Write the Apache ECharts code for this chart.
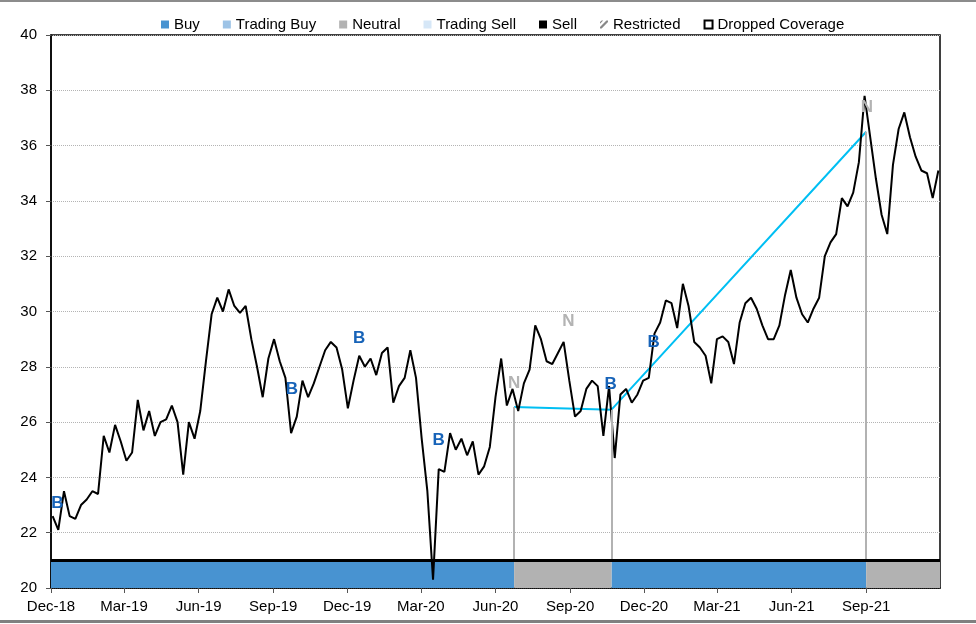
<!DOCTYPE html>
<html>
<head>
<meta charset="utf-8">
<script src="https://cdn.jsdelivr.net/npm/echarts@6/dist/echarts.min.js"></script>
<style>
  html, body { margin: 0; padding: 0; background: #fff; }
  #main { width: 976px; height: 624px; }
</style>
</head>
<body>
<div id="main"></div>
<script>
// weekly closing prices (first week starts 2018-12-03)
const startDate = [2018, 11, 3]
const prices = [
  22.6, 22.1, 23.5, 22.6, 22.5, 23.0, 23.2, 23.5, 23.4, 25.5,
  24.9, 25.9, 25.3, 24.6, 24.9, 26.8, 25.7, 26.4, 25.5, 26.0,
  26.1, 26.6, 26.0, 24.1, 26.0, 25.4, 26.4, 28.2, 29.9, 30.5,
  30.0, 30.8, 30.2, 29.95, 30.2, 29.0, 28.0, 26.9, 28.3, 29.0,
  28.2, 27.6, 25.6, 26.2, 27.5, 26.9, 27.4, 28.0, 28.6, 28.9,
  28.7, 27.9, 26.5, 27.5, 28.4, 28.0, 28.3, 27.7, 28.5, 28.7,
  26.7, 27.3, 27.6, 28.6, 27.6, 25.4, 23.5, 20.3, 24.3, 24.2,
  25.6, 25.0, 25.4, 24.8, 25.3, 24.1, 24.4, 25.1, 26.9, 28.3,
  26.6, 27.2, 26.4, 27.4, 27.9, 29.5, 29.0, 28.2, 28.1, 28.5,
  28.9, 27.5, 26.2, 26.4, 27.2, 27.5, 27.3, 25.5, 27.3, 24.7,
  27.0, 27.2, 26.7, 27.0, 27.5, 27.6, 29.2, 29.6, 30.4, 30.3,
  29.4, 31.0, 30.2, 28.9, 28.7, 28.4, 27.4, 29.0, 29.1, 28.9,
  28.1, 29.6, 30.3, 30.5, 30.1, 29.5, 29.0, 29.0, 29.5, 30.6,
  31.5, 30.5, 29.9, 29.6, 30.1, 30.5, 32.0, 32.5, 32.8, 34.1,
  33.8, 34.3, 35.4, 37.8, 36.3, 34.8, 33.5, 32.8, 35.3, 36.6,
  37.2, 36.3, 35.6, 35.1, 35.0, 34.1, 35.1
]

// rating periods (bottom band)
const buyPeriods = [['2018-12-01', '2020-06-24'], ['2020-10-22', '2021-09-01']]
const neutralPeriods = [['2020-06-24', '2020-10-22'], ['2021-09-01', '2021-12-01']]

// price target history
const targetDates = ['2020-06-24', '2020-10-22', '2021-09-01']
const targetValues = [26.55, 26.45, 36.5]

// rating letters on the chart
const buyMarkDates = ['2018-12-09', '2019-09-24', '2019-12-16', '2020-03-23', '2020-10-21', '2020-12-13']
const buyMarkValues = [23.07, 27.2, 29.04, 25.35, 27.38, 28.9]
const neutralMarkDates = ['2020-06-24', '2020-08-30', '2021-09-02']
const neutralMarkValues = [27.41, 29.66, 37.4]

// x axis ticks
const xTickDates = ['2018-12-01', '2019-03-01', '2019-06-01', '2019-09-01', '2019-12-01', '2020-03-01',
  '2020-06-01', '2020-09-01', '2020-12-01', '2021-03-01', '2021-06-01', '2021-09-01']
const xTickLabels = ['Dec-18', 'Mar-19', 'Jun-19', 'Sep-19', 'Dec-19', 'Mar-20',
  'Jun-20', 'Sep-20', 'Dec-20', 'Mar-21', 'Jun-21', 'Sep-21']

const BLUE = '#4893d1'
const GREY = '#b2b2b2'

const toTs = (s) => {
  const p = s.split('-').map(Number)
  return new Date(p[0], p[1] - 1, p[2]).getTime()
}
const xTickTs = xTickDates.map(toTs)

const priceData = prices.map((v, i) => [new Date(startDate[0], startDate[1], startDate[2] + 7 * i).getTime(), v])
const targetData = targetDates.map((d, i) => [toTs(d), targetValues[i]])

// band drawn as rectangles between 20 and 21
const bandItem = (color) => (params, api) => {
  const a = api.coord([api.value(0), 21])
  const b = api.coord([api.value(1), 20])
  return {
    type: 'rect',
    shape: { x: a[0], y: a[1], width: b[0] - a[0], height: b[1] - a[1] },
    style: { fill: color }
  }
}

const letterLabel = (txt, color) => ({
  show: true,
  position: 'inside',
  formatter: txt,
  color: color,
  opacity: 1,
  textBorderWidth: 0,
  fontFamily: 'Liberation Sans, Arial, sans-serif',
  fontWeight: 'bold',
  fontSize: 17
})

const chart = echarts.init(document.getElementById('main'))

const option = {
  animation: false,
  textStyle: { fontFamily: 'Liberation Sans, Arial, sans-serif' },
  graphic: [
    { type: 'rect', left: 0, top: 0, shape: { width: 976, height: 2 }, style: { fill: '#8c8c8c' } },
    { type: 'rect', left: 0, top: 620, shape: { width: 976, height: 3 }, style: { fill: '#808080' } }
  ],
  legend: {
    left: 156,
    top: 12,
    itemWidth: 8,
    itemHeight: 8,
    itemGap: 23,
    selectedMode: false,
    textStyle: { fontSize: 15, color: '#000' },
    data: [
      { name: 'Buy', icon: 'rect', itemStyle: { color: BLUE } },
      { name: 'Trading Buy', icon: 'rect', itemStyle: { color: '#9dc3e6' } },
      { name: 'Neutral', icon: 'rect', itemStyle: { color: GREY } },
      { name: 'Trading Sell', icon: 'rect', itemStyle: { color: '#d6e7f7' } },
      { name: 'Sell', icon: 'rect', itemStyle: { color: '#000' } },
      { name: 'Restricted', icon: 'path://M0,10L2,10L10,2L10,0L8,0L0,8Z M0,4L4,0L2,0L0,2Z', itemStyle: { color: '#888' } },
      { name: 'Dropped Coverage', icon: 'rect', itemStyle: { color: '#fff', borderColor: '#000', borderWidth: 2 } }
    ]
  },
  grid: { left: 51, right: 36, top: 35, bottom: 36, show: true, borderColor: '#000', borderWidth: 1.5 },
  xAxis: {
    type: 'value',
    min: toTs('2018-12-01'),
    max: toTs('2021-12-01'),
    axisLine: { lineStyle: { color: '#000', width: 1.5 } },
    axisTick: { show: true, length: 5, customValues: xTickTs, lineStyle: { color: '#555' } },
    axisLabel: {
      customValues: xTickTs,
      margin: 11,
      fontSize: 15,
      color: '#000',
      formatter: (v) => {
        const k = xTickTs.indexOf(v)
        return k >= 0 ? xTickLabels[k] : ''
      }
    },
    splitLine: { show: false }
  },
  yAxis: {
    type: 'value',
    min: 20,
    max: 40,
    interval: 2,
    axisLine: { show: true, lineStyle: { color: '#000', width: 1.5 } },
    axisTick: { show: true, length: 5, lineStyle: { color: '#555' } },
    axisLabel: { fontSize: 15, color: '#000', margin: 14 },
    splitLine: { lineStyle: { color: '#b4b4b4', type: 'dotted', width: 1 } }
  },
  series: [
    {
      name: 'Buy',
      type: 'custom',
      renderItem: bandItem(BLUE),
      itemStyle: { color: BLUE },
      encode: { x: [0, 1] },
      data: buyPeriods.map((p) => [toTs(p[0]), toTs(p[1])]),
      z: 1
    },
    {
      name: 'Neutral',
      type: 'custom',
      renderItem: bandItem(GREY),
      itemStyle: { color: GREY },
      encode: { x: [0, 1] },
      data: neutralPeriods.map((p) => [toTs(p[0]), toTs(p[1])]),
      z: 1
    },
    { name: 'Trading Buy', type: 'bar', data: [], itemStyle: { color: '#9dc3e6' } },
    { name: 'Trading Sell', type: 'bar', data: [], itemStyle: { color: '#d6e7f7' } },
    { name: 'Sell', type: 'bar', data: [], itemStyle: { color: '#000' } },
    { name: 'Restricted', type: 'bar', data: [], itemStyle: { color: '#888' } },
    { name: 'Dropped Coverage', type: 'bar', data: [], itemStyle: { color: '#fff' } },
    {
      name: 'Target',
      type: 'line',
      data: targetData,
      symbol: 'none',
      lineStyle: { color: '#00bff3', width: 2 },
      z: 3,
      markLine: {
        silent: true,
        symbol: 'none',
        label: { show: false },
        lineStyle: { color: GREY, width: 2, type: 'solid' },
        data: targetData.map((p) => [{ coord: [p[0], 21] }, { coord: [p[0], p[1]] }])
      }
    },
    {
      name: 'Price',
      type: 'line',
      data: priceData,
      symbol: 'none',
      lineStyle: { color: '#000', width: 2 },
      z: 4,
      markLine: {
        silent: true,
        symbol: 'none',
        label: { show: false },
        lineStyle: { color: '#000', width: 3, type: 'solid' },
        data: [{ yAxis: 21 }]
      }
    },
    {
      name: 'BuyMarks',
      type: 'scatter',
      symbolSize: 1,
      itemStyle: { color: 'rgba(0,0,0,0)', opacity: 1 },
      label: letterLabel('B', '#1763b8'),
      data: buyMarkDates.map((d, i) => [toTs(d), buyMarkValues[i]]),
      z: 5
    },
    {
      name: 'NeutralMarks',
      type: 'scatter',
      symbolSize: 1,
      itemStyle: { color: 'rgba(0,0,0,0)', opacity: 1 },
      label: letterLabel('N', '#b3b3b3'),
      data: neutralMarkDates.map((d, i) => [toTs(d), neutralMarkValues[i]]),
      z: 5
    }
  ]
}

chart.setOption(option)
</script>
</body>
</html>
